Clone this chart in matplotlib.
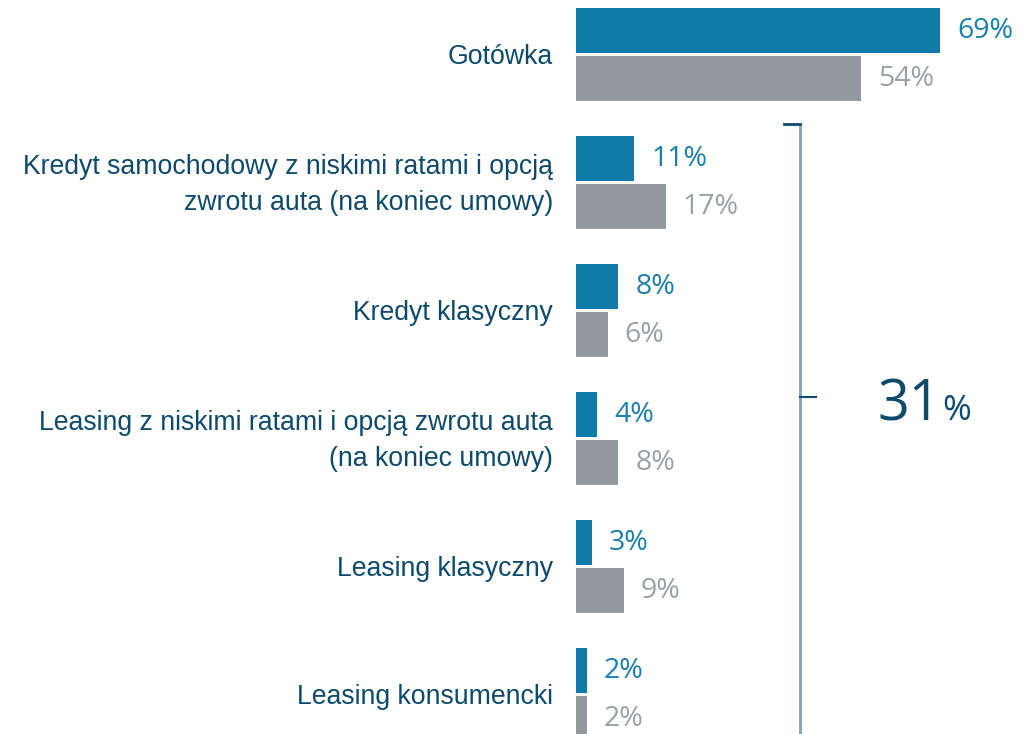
import matplotlib.pyplot as plt

categories = [
    "Gotówka",
    "Kredyt samochodowy z niskimi ratami i opcją\nzwrotu auta (na koniec umowy)",
    "Kredyt klasyczny",
    "Leasing z niskimi ratami i opcją zwrotu auta\n(na koniec umowy)",
    "Leasing klasyczny",
    "Leasing konsumencki",
]
blue_vals = [69, 11, 8, 4, 3, 2]
gray_vals = [54, 17, 6, 8, 9, 2]
total_label = "31"

blue = "#107aa8"
gray = "#939a9f"
dark = "#0d4a6b"

fig = plt.figure(figsize=(10.28, 7.34), dpi=100)
px = 5.28  # pixels per percent
ax = fig.add_axes([576 / 1028, 0, (1028 - 576) / 1028, 1])
ax.set_xlim(0, (1028 - 576) / px)
ax.set_ylim((734 - 54) / 128, -54 / 128)
ax.axis("off")

h = 45 / 128
off = 24 / 128
for i, (b, g) in enumerate(zip(blue_vals, gray_vals)):
    ax.barh(i - off, b, height=h, color=blue)
    ax.barh(i + off, g, height=h, color=gray)
    ax.text(b + 17 / px, i - off + 0.01, f"{b}%", va="center", ha="left",
            color="#1a7fae", fontsize=20.5, family="Open Sans")
    ax.text(g + 17 / px, i + off + 0.01, f"{g}%", va="center", ha="left",
            color="#9aa0a4", fontsize=20.5, family="Open Sans")
    ax.text(-23 / px, i + 0.02, categories[i], va="center", ha="right",
            color=dark, fontsize=19.2, family="Liberation Sans",
            linespacing=1.5, clip_on=False)

# bracket
bx = (800 - 576) / px
y_top = (124 - 54) / 128
y_mid = (397 - 54) / 128
ax.plot([bx, bx], [y_top, 6], color="#7fa3b8", lw=2, clip_on=False,
        solid_capstyle="butt")
ax.plot([bx - 16 / px, bx], [y_top, y_top], color=dark, lw=2, clip_on=False)
ax.plot([bx, bx + 16 / px], [y_mid, y_mid], color=dark, lw=1.5, clip_on=False)

t = ax.text((877 - 576) / px, (420 - 54) / 128, total_label, ha="left",
            va="baseline", color=dark, fontsize=40, family="Open Sans")
fig.canvas.draw()
bb = t.get_window_extent()
fig.text((bb.x1 + 2) / 1028, (734 - 420) / 734, "%", ha="left",
         va="baseline", color=dark, fontsize=25, family="Open Sans")

fig.savefig("out.png", dpi=100)
